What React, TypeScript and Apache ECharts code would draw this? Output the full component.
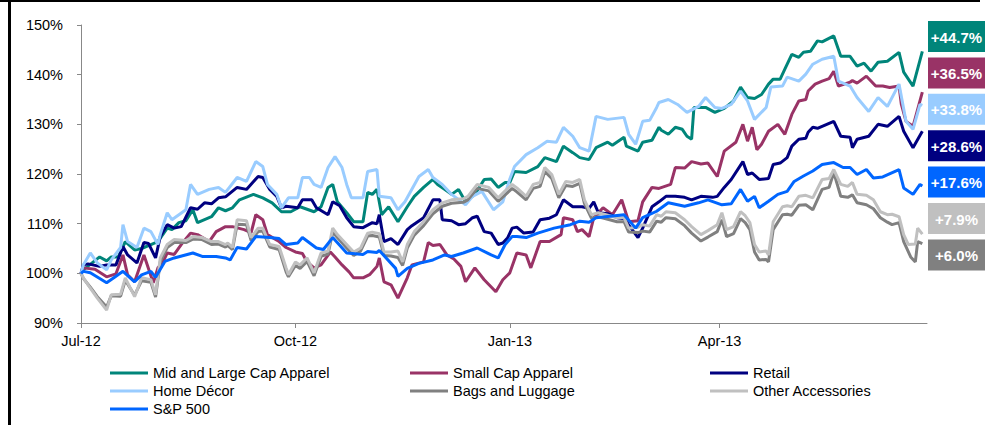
import React, { useEffect, useRef } from "react";
import * as echarts from "echarts";

// x = days since 1 Jul 2012
const tickDays = [0, 92, 184, 274];
const tickLabels = ["Jul-12", "Oct-12", "Jan-13", "Apr-13"];

const seriesNames = [
  "Mid and Large Cap Apparel",
  "Small Cap Apparel",
  "Retail",
  "Home Décor",
  "Bags and Luggage",
  "Other Accessories",
  "S&P 500",
];
const seriesColors = ["#00857A", "#993366", "#000080", "#99CCFF", "#808080", "#C0C0C0", "#0066FF"];
const endLabels = ["+44.7%", "+36.5%", "+33.8%", "+28.6%", "+17.6%", "+7.9%", "+6.0%"];
const endLabelColors = ["#00857A", "#993366", "#99CCFF", "#000080", "#0066FF", "#C0C0C0", "#808080"];

const midLarge = [[0,100],[1,100.7],[8,103.3],[11,102.5],[13,103.3],[16,103.3],[19,106.4],[23,104.7],[26,105],[30,105.8],[33,106.4],[37,109.1],[39,108.8],[42,110.2],[45,110.6],[48,112.8],[50,110.2],[53,110.8],[56,111.4],[59,113.2],[62,112.6],[65,113.2],[68,114.8],[74,115.9],[78,115.2],[82,114.2],[86,112.4],[90,112.4],[94,113.4],[100,112.4],[103,113.4],[106,117.3],[108,117.9],[110,114.4],[114,112.2],[117,110.4],[121,110.4],[123,116.3],[125,115.9],[127,116.9],[129,111.8],[132,113.4],[136,110.4],[140,113.4],[143,115.5],[147,117.3],[151,118.9],[153,117.9],[156,116.9],[159,115.9],[162,116.9],[165,114.4],[169,115.9],[173,118.9],[176,119],[179,117.3],[182,118.3],[184,118.3],[186,120.5],[191,120.3],[196,121.5],[199,123.3],[204,122.5],[207,125.6],[211,124.3],[214,123.3],[218,122.9],[221,125.3],[226,126.4],[228,125.8],[233,127.4],[234,125.6],[239,124.6],[241,126.4],[245,126.8],[248,129.4],[249,128.8],[252,128],[255,129.4],[258,129],[260,127.6],[262,127],[263,133.4],[268,133.4],[272,132.4],[276,133.2],[280,134.7],[283,137.5],[286,135.4],[289,135.2],[292,136],[295,138.1],[297,139.1],[300,139.1],[302,141.1],[305,144.1],[308,143.5],[310,144.5],[313,144.7],[316,146.8],[318,146.6],[323,147.8],[326,143.7],[330,143.7],[333,141.7],[336,142.3],[339,140.7],[342,142.5],[346,142.7],[351,144.5],[353,140.5],[357,137.7],[361,144.7]];

const smallCap = [[0,100],[1,101.1],[6,100.8],[11,99.3],[15,99.9],[18,103.7],[20,99.7],[23,98.3],[27,103.7],[31,98.1],[33,101.1],[35,102.1],[37,104.1],[40,103.8],[43,105.8],[47,108.1],[50,107.8],[55,106.4],[58,108.4],[62,109.4],[65,109.4],[70,108.8],[73,108.2],[75,111.8],[78,110.8],[80,107.8],[85,106.4],[88,105.2],[92,104.3],[95,104],[97,102.3],[100,101.1],[103,101.7],[107,104.3],[109,103.3],[112,101.7],[115,100.3],[117,99.1],[121,99.1],[124,99.8],[127,101.4],[128,103.1],[130,98.3],[133,97.7],[136,95],[140,99.1],[142,101.7],[147,102.3],[149,106.2],[151,105.6],[154,105.8],[157,103.7],[160,102.9],[163,101.4],[165,98.3],[169,101.1],[173,98.7],[178,96.3],[181,98.7],[184,100.1],[187,104.1],[191,103.7],[193,101.1],[197,106.4],[201,106.4],[206,107.8],[207,111.2],[211,110.8],[213,108.4],[215,108.8],[218,107.4],[220,111.2],[224,113.2],[228,111.8],[232,114.8],[235,110.4],[239,110.6],[241,114.4],[245,117.3],[248,117.1],[253,117.9],[255,121.3],[259,121.2],[262,122.5],[266,122],[269,122.2],[273,119.5],[276,124.6],[281,126.4],[284,130],[286,126.6],[288,129.4],[290,124.9],[292,126],[295,128.6],[299,130],[302,128],[305,132],[308,134.7],[311,135],[312,136.7],[315,138.1],[318,138.7],[321,139.2],[323,140.7],[325,137.7],[330,138.5],[331,138.8],[333,138.3],[337,139.7],[341,137.7],[344,137.7],[347,137.4],[351,137.7],[352,134],[354,130.6],[357,129.6],[361,136.5]];

const retail = [[0,100],[1,101.7],[3,101.9],[8,101.4],[11,101.7],[15,101.7],[18,105.4],[20,103.7],[24,102.1],[27,106.2],[29,106],[32,103.1],[34,107.4],[37,109.8],[40,109.1],[43,109.4],[47,113.2],[50,112.9],[53,114.2],[56,114],[59,115.2],[62,115.4],[67,117.3],[71,116.9],[76,119.5],[78,119.3],[81,116.9],[84,115.5],[86,113.2],[88,113.5],[93,113.2],[95,114.8],[99,114.8],[101,113.2],[106,111.8],[108,114.4],[111,113.6],[114,111.2],[117,109.4],[121,109.2],[123,109.7],[125,110.2],[127,110],[128,111.8],[130,106.4],[133,107],[136,105.8],[140,108.8],[142,109.6],[147,111.2],[151,114.8],[154,114.8],[155,110.8],[159,110.6],[162,109.8],[165,110],[168,111.2],[170,111.5],[173,108.4],[176,108.1],[179,105.8],[181,106.1],[183,107.1],[185,109.1],[187,109.3],[190,108.1],[194,108.3],[197,110.8],[201,111.1],[204,111.8],[207,114.8],[211,113.4],[215,113.4],[218,113.1],[220,114.4],[222,112.2],[226,112],[230,111.2],[233,111],[236,109.1],[239,107.2],[241,109.1],[245,113.4],[248,114.4],[251,115.5],[255,115.5],[259,115.3],[262,114.8],[266,115.5],[271,115.3],[273,115.5],[276,117.3],[279,118.9],[284,122.5],[286,119.9],[288,120.2],[291,118.9],[295,119.1],[297,121.9],[300,122.2],[303,123.3],[305,125.6],[308,127],[311,127.2],[312,128.4],[314,129.4],[316,129.2],[318,129.6],[323,130.6],[326,127.6],[330,127.4],[331,125.3],[333,127],[338,127.6],[342,130],[346,129.6],[351,131.6],[353,128.6],[357,125.3],[361,128.6]];

const homeDecor = [[0,100],[1,101.7],[4,104.1],[7,102.1],[11,100.7],[13,102.7],[17,105.2],[18,109.8],[20,106.4],[24,105.2],[27,109.1],[30,108.4],[33,105.8],[34,107.8],[37,112.2],[39,110.8],[45,112.8],[47,117.9],[50,115.9],[55,116.9],[59,117.3],[62,116.3],[67,119.3],[71,118.5],[75,122.5],[78,121.5],[80,117.9],[84,115.9],[86,113.2],[89,115.2],[93,115.2],[95,119.3],[98,119.3],[100,117.9],[103,117.3],[106,121.3],[109,123.5],[112,121.3],[114,117.9],[116,115.2],[121,115.2],[123,120.5],[127,120.9],[128,115.5],[133,115.2],[136,112.8],[139,114.4],[145,119.5],[149,120.9],[151,119.3],[155,117.9],[159,115.9],[165,113.8],[168,115.5],[172,116.5],[177,112.8],[181,114.4],[184,119],[186,121.5],[191,123.9],[196,125.3],[200,126.6],[204,126.4],[207,129.4],[211,127.6],[214,125.3],[218,124.6],[221,131.6],[226,131],[233,131.4],[235,128],[238,126],[241,130.6],[244,130.8],[247,133.4],[248,134.4],[252,135],[256,134],[260,132.4],[265,133.6],[268,135.4],[272,133.4],[275,133.2],[279,134],[283,136.7],[286,134.7],[289,131],[294,133.4],[296,137.5],[301,137.7],[303,139.5],[308,138.7],[311,140.1],[314,142.1],[318,143.1],[323,143.7],[325,138.7],[330,137.7],[333,135.4],[338,132.6],[342,135.4],[346,133.6],[351,138.1],[354,130.6],[357,129],[360,134],[361,133.8]];

const bags = [[0,100],[1,99],[4,97.2],[7,95.3],[11,93.2],[13,95.5],[17,95.4],[19,98.6],[23,95.6],[26,98.5],[30,98.2],[32,95.2],[34,102.3],[37,105.2],[40,106.2],[45,106.2],[48,106.9],[52,106.8],[56,105.8],[59,105.9],[62,105.3],[63,105.6],[65,104.8],[67,109.9],[71,109.8],[73,106.6],[76,108.4],[78,108.5],[81,105.3],[85,104.8],[88,100.3],[89,99.3],[92,101.6],[94,101],[97,102.4],[100,99.5],[103,103.4],[106,103.9],[108,108.3],[110,107.2],[114,105.1],[117,103.6],[120,104.5],[123,107.5],[125,107.6],[127,107.4],[128,107.3],[130,103.6],[133,103.5],[136,103.2],[138,101.6],[140,105.1],[143,107.7],[147,109.6],[151,112],[155,113.5],[159,114.1],[164,114.3],[166,114.8],[170,117.1],[175,116.6],[179,114.5],[182,115.8],[185,117.1],[187,116.4],[191,114.8],[194,117.1],[197,117.5],[199,120.5],[202,119.1],[205,115.2],[208,117.7],[211,117.5],[214,118.1],[216,114.1],[219,111.1],[222,111.4],[226,110.9],[230,110.4],[233,110.4],[235,108.3],[239,108.2],[241,108.5],[244,108.3],[247,110.5],[249,110.3],[251,111.2],[255,111],[259,109.6],[262,108.1],[266,106.5],[269,107.3],[273,108.4],[275,110.8],[277,107.4],[280,108],[283,111],[285,110.2],[287,108.8],[289,104.3],[291,102.7],[294,102.8],[295,102.3],[297,108.8],[301,111.8],[303,111.9],[305,111.7],[308,113.7],[311,113.8],[314,112.8],[318,116.9],[321,117.3],[323,120.3],[326,115.5],[329,115.3],[331,115.8],[333,114.2],[337,113.8],[340,113],[343,111.2],[346,110.3],[348,109.8],[351,110.2],[353,106.4],[356,103.3],[358,102.3],[359,106.4],[361,106.0]];

const otherAcc = [[0,100],[1,99.1],[4,97],[7,95],[11,92.6],[13,95.7],[17,95.8],[19,99.1],[23,95.3],[26,99.1],[30,98.7],[32,95.7],[34,103.1],[37,105.8],[40,106.8],[45,106.6],[48,107.4],[52,107.2],[56,106.4],[59,106.4],[62,105.8],[63,106.1],[65,105.2],[67,110.8],[71,110.6],[73,107.2],[76,109.1],[78,109.1],[81,105.8],[85,105.4],[88,101.1],[89,99.7],[92,102.3],[94,101.7],[97,103.1],[100,100.1],[103,104.1],[106,104.5],[108,109.1],[110,107.8],[114,105.8],[117,104.3],[120,105.1],[123,108.1],[125,108.3],[127,108.1],[128,108],[130,104.3],[133,104.3],[136,104.5],[138,102.3],[140,105.8],[143,108.4],[147,110.4],[151,112.8],[155,114.2],[159,114.8],[164,115],[166,115.5],[170,117.9],[175,117.3],[179,115.2],[182,116.6],[185,117.9],[187,117.2],[191,115.5],[194,117.9],[197,118.3],[199,121.3],[202,119.9],[205,115.9],[208,118.5],[211,118.3],[214,118.9],[216,114.8],[219,111.8],[222,112.2],[226,111.7],[230,111.2],[233,111.2],[235,109.1],[239,109.3],[241,109.8],[244,109.5],[247,111.8],[249,111.5],[251,112.4],[255,112.2],[259,110.8],[262,109.4],[266,107.8],[269,108.6],[273,109.8],[275,112.2],[277,108.8],[280,109.4],[283,112.4],[285,111.6],[287,110.2],[289,105.8],[291,104.3],[294,104.5],[295,103.7],[297,110.4],[301,113.4],[303,113.6],[305,113.4],[308,115.5],[311,115.7],[314,115.2],[318,118.9],[321,119.1],[323,120.9],[326,117.9],[329,117.5],[331,118.3],[333,115.9],[337,115.7],[340,114.8],[343,112.4],[346,111.8],[348,111.9],[351,111.4],[353,107.8],[355,105.8],[358,105.9],[359,109.1],[361,107.9]];

const sp500 = [[0,100],[1,100.4],[4,100.1],[11,98.1],[15,99.4],[18,100.4],[23,98.3],[26,99.7],[30,100.4],[32,99.2],[36,102.4],[40,103.1],[48,104.1],[52,103.4],[58,103.4],[62,103.1],[64,102.7],[67,105.2],[71,104.9],[75,107.4],[81,107.2],[85,107],[88,105.8],[93,106.1],[95,107.2],[101,105.1],[104,104.8],[108,107.2],[114,104.1],[121,103.8],[123,104.4],[127,104.2],[128,104.6],[135,101],[136,99.4],[140,101],[145,102],[151,102.7],[156,103.7],[159,103.4],[164,104.1],[170,105.1],[176,103.7],[179,103.1],[182,105.8],[185,107.4],[187,107.4],[191,107.2],[196,108.1],[203,109.1],[210,109.8],[214,110.5],[218,110.3],[221,111.2],[227,111.5],[233,111.8],[238,109.1],[241,111.2],[247,112.5],[252,114.2],[259,113.5],[265,114.2],[269,114.8],[275,113.8],[279,114],[283,116.9],[286,114.5],[289,115.5],[291,113.2],[295,114.5],[299,115.9],[303,116.5],[306,118.5],[310,119.6],[314,120.6],[318,121.9],[323,122.3],[327,121.3],[330,121.3],[333,119.9],[337,120.9],[340,119.2],[344,119.4],[351,120.9],[353,117.2],[357,115.9],[360,117.9],[361,117.6]];

const seriesData = [midLarge, smallCap, retail, homeDecor, bags, otherAcc, sp500];

const FONT = "'Liberation Sans', Arial, sans-serif";

export default function App() {
  const ref = useRef<HTMLDivElement>(null);
  useEffect(() => {
    if (!ref.current) return;
    const chart = echarts.init(ref.current, null, { renderer: "svg" });
    const boxTop = 21;
    const boxStep = 36.4;
    const graphics: any[] = [
      { type: "rect", left: 0, top: 0, shape: { x: 8, y: 2, width: 980, height: 2 }, style: { fill: "#000" }, silent: true },
      { type: "rect", shape: { x: 8, y: 2, width: 3, height: 423 }, style: { fill: "#000" }, silent: true },
    ];
    endLabels.forEach((t, i) => {
      graphics.push({
        type: "group",
        x: 928,
        y: boxTop + i * boxStep,
        children: [
          { type: "rect", shape: { x: 0, y: 0, width: 57, height: 31 }, style: { fill: endLabelColors[i] } },
          {
            type: "text",
            x: 28.5,
            y: 16,
            style: {
              text: t,
              fill: "#fff",
              font: `bold 15px ${FONT}`,
              align: "center",
              verticalAlign: "middle",
            },
          },
        ],
      });
    });
    const legendBase = {
      orient: "vertical",
      icon: "rect",
      itemWidth: 38,
      itemHeight: 3,
      itemGap: 0,
      padding: 0,
      top: 364,
      textStyle: { fontFamily: FONT, fontSize: 14.5, color: "#000", lineHeight: 18 },
    };
    chart.setOption({
      animation: false,
      grid: { left: 81, right: 61, top: 25, bottom: 102 },
      xAxis: {
        type: "value",
        min: 0,
        max: 363,
        axisLine: { lineStyle: { color: "#888", width: 1 } },
        axisTick: { show: true, customValues: tickDays, length: 5, lineStyle: { color: "#888" } },
        axisLabel: {
          customValues: tickDays,
          margin: 10,
          fontFamily: FONT,
          fontSize: 14.5,
          color: "#000",
          formatter: (v: number) => tickLabels[tickDays.indexOf(Math.round(v))] ?? "",
        },
        splitLine: { show: false },
      },
      yAxis: {
        type: "value",
        min: 90,
        max: 150,
        interval: 10,
        axisLine: { show: true, lineStyle: { color: "#888", width: 1 } },
        axisTick: { show: true, length: 4, lineStyle: { color: "#888" } },
        axisLabel: { formatter: "{value}%", margin: 18, fontFamily: FONT, fontSize: 14.5, color: "#000" },
        splitLine: { show: false },
      },
      legend: [
        { ...legendBase, left: 110, data: [seriesNames[0], seriesNames[3], seriesNames[6]] },
        { ...legendBase, left: 410, data: [seriesNames[1], seriesNames[4]] },
        { ...legendBase, left: 710, data: [seriesNames[2], seriesNames[5]] },
      ],
      series: seriesNames.map((name, i) => ({
        name,
        type: "line",
        data: seriesData[i],
        showSymbol: false,
        symbol: "none",
        color: seriesColors[i],
        lineStyle: { width: 3, color: seriesColors[i] },
        z: 2 + i,
      })),
      graphic: graphics,
    });
    return () => chart.dispose();
  }, []);
  return <div ref={ref} style={{ position: "absolute", left: 0, top: 0, width: 988, height: 425 }} />;
}
